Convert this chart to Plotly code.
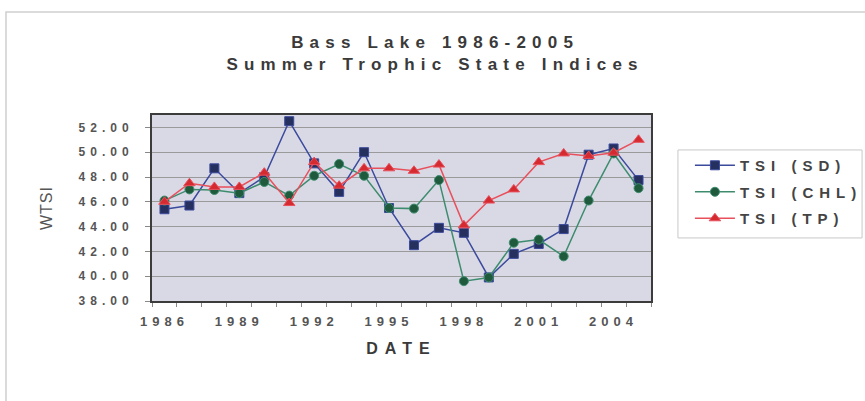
import plotly.graph_objects as go

years = list(range(1986, 2006))
tsi_sd = [45.4, 45.7, 48.7, 46.7, 48.0, 52.5, 49.1, 46.8, 50.0, 45.5,
          42.5, 43.9, 43.5, 39.9, 41.8, 42.6, 43.8, 49.8, 50.3, 47.75]
tsi_chl = [46.1, 47.0, 46.95, 46.7, 47.6, 46.5, 48.1, 49.05, 48.1, 45.5,
           45.45, 47.75, 39.6, 39.9, 42.7, 42.95, 41.6, 46.1, 49.9, 47.1]
tsi_tp = [46.0, 47.5, 47.2, 47.2, 48.35, 45.9, 49.2, 47.3, 48.7, 48.7,
          48.5, 49.0, 44.1, 46.1, 47.0, 49.2, 49.9, 49.7, 49.96, 51.0]
x_ticks = [1986, 1989, 1992, 1995, 1998, 2001, 2004]
y_ticks = [38, 40, 42, 44, 46, 48, 50, 52]
series_names = ["TSI (SD)", "TSI (CHL)", "TSI (TP)"]

NARROW = "Liberation Sans Narrow, Arial Narrow, Liberation Sans, Arial, sans-serif"

fig = go.Figure()
fig.add_trace(go.Scatter(
    x=years, y=tsi_sd, name=series_names[0], mode="lines+markers", legendgroup="a",
    line=dict(color="#3b4a9c", width=1.5),
    marker=dict(symbol="square", size=9, color="#25305f", line=dict(color="#3b4a9c", width=1))))
fig.add_trace(go.Scatter(
    x=years, y=tsi_chl, name=series_names[1], mode="lines+markers", legendgroup="b",
    line=dict(color="#3e8c6e", width=1.5),
    marker=dict(symbol="circle", size=9, color="#1f5a3c", line=dict(color="#3e8c6e", width=1))))
fig.add_trace(go.Scatter(
    x=years, y=tsi_tp, name=series_names[2], mode="lines+markers", legendgroup="c",
    line=dict(color="#e8505c", width=1.5),
    marker=dict(symbol="triangle-up", size=10, color="#d42a30", line=dict(color="#e8505c", width=1))))

boundaries = [y - 0.5 for y in years] + [years[-1] + 0.5]

# chart-area border (paper coords derived from plot box)
fig.add_shape(type="rect", xref="paper", yref="paper",
              x0=-0.2926, x1=1.45, y0=-0.57, y1=1.554,
              line=dict(color="#cfcfcf", width=1.5), fillcolor="rgba(0,0,0,0)", layer="below")
# legend box
fig.add_shape(type="rect", xref="paper", yref="paper",
              x0=1.054, x1=1.423, y0=0.339, y1=0.812,
              line=dict(color="#c8c8c8", width=1), fillcolor="rgba(0,0,0,0)")

fig.update_layout(
    width=865, height=401,
    margin=dict(l=152, r=214, t=115, b=100),
    paper_bgcolor="white",
    plot_bgcolor="#d9d9e6",
    title=dict(text="Bass Lake 1986-2005<br>Summer Trophic State Indices",
               x=0.503, xref="container", xanchor="center",
               y=1 - 48 / 401, yref="container", yanchor="middle",
               font=dict(family=NARROW, size=17, color="#3a3a3a", weight="bold")),
    showlegend=True,
    legend=dict(x=1.078, xanchor="left", y=0.817, yanchor="top",
                bgcolor="rgba(0,0,0,0)", borderwidth=0,
                itemwidth=40, tracegroupgap=4,
                font=dict(family=NARROW, size=15, color="#444", weight="bold")),
    xaxis=dict(range=[1985.5, 2005.5], tickmode="array", tickvals=x_ticks,
               ticktext=[str(v) for v in x_ticks], ticks="",
               minor=dict(tickmode="array", tickvals=boundaries, ticks="outside",
                          ticklen=4, tickcolor="#888", showgrid=False),
               showgrid=False, zeroline=False,
               showline=True, linecolor="#3c3c3c", linewidth=2, mirror=True,
               tickfont=dict(family=NARROW, size=13, color="#555", weight="bold"),
               ticklabelstandoff=7,
               title=dict(text="DATE", standoff=15,
                          font=dict(family=NARROW, size=16, color="#3a3a3a", weight="bold"))),
    yaxis=dict(range=[38, 53], tickmode="array", tickvals=y_ticks, tickformat=".2f",
               ticks="outside", ticklen=5, tickcolor="#888",
               showgrid=True, gridcolor="#9a9a9a", gridwidth=1, zeroline=False,
               showline=True, linecolor="#3c3c3c", linewidth=2, mirror=True,
               tickfont=dict(family=NARROW, size=12, color="#555", weight="bold"),
               ticklabelstandoff=9,
               title=dict(text="WTSI", standoff=47,
                          font=dict(family=NARROW, size=16, color="#555"))),
)

css = ("body{margin:0;} .gtitle{letter-spacing:6.2px;} .xtitle{letter-spacing:7px;} "
       ".ytitle{letter-spacing:1px;} .xtick text{letter-spacing:5px;} "
       ".ytick text{letter-spacing:5px;} .legendtext{letter-spacing:6px;} "
       ".legend .scrollbox{clip-path:none !important;}")
post = ("var s=document.createElement('style');s.textContent='" + css +
        "';document.head.appendChild(s);"
        "document.querySelectorAll('.legend .scrollbox').forEach(function(e){e.removeAttribute('clip-path');});")

fig.write_html("out.html", post_script=post, config={"displayModeBar": False})
